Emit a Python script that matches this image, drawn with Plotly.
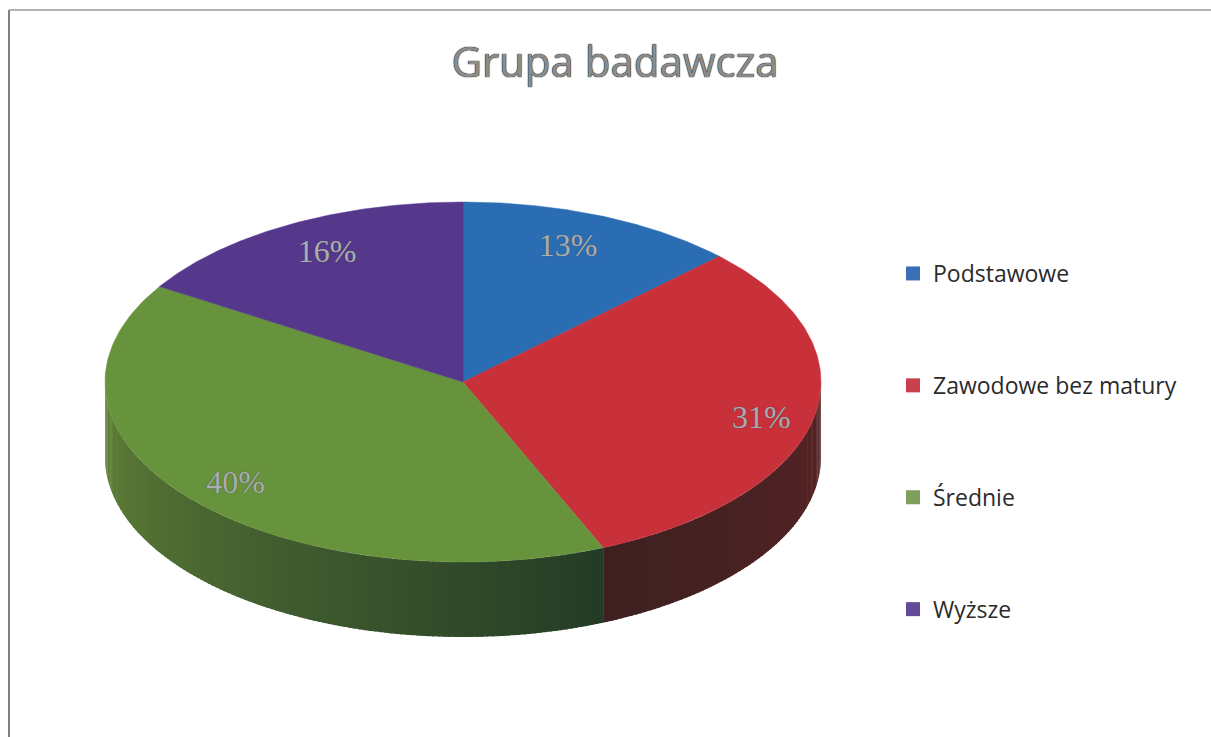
import numpy as np
import plotly.graph_objects as go

# --- data ---
categories = ["Podstawowe", "Zawodowe bez matury", "Średnie", "Wyższe"]
values = [12.7, 30.9, 40.3, 16.1]
labels = ["13%", "31%", "40%", "16%"]
title = "Grupa badawcza"

# --- style ---
top_colors = ["#2a6db3", "#c8303a", "#66933c", "#55378c"]
legend_colors = ["#3a6fb5", "#c8404c", "#7f9f5c", "#664a9a"]
side_light = {1: (88, 36, 38), 2: (98, 130, 56)}
side_dark = {1: (62, 32, 32), 2: (36, 60, 38)}

W, H = 1211, 737
CX, CY, RX, RY, DEPTH = 463, 382, 358, 180, 75
LABEL_F = [(0.755, 0.81), (0.85, 1.07), (0.835, 0.885), (0.783, 0.81)]


def px(theta):
    return CX + RX * np.sin(theta)


def py(theta):
    return CY - RY * np.cos(theta)


edges = np.concatenate([[0], np.cumsum(values)]) / sum(values) * 2 * np.pi
fig = go.Figure()

# side wall: thin strips so the shading can vary along the rim
for i in range(len(values)):
    a0, a1 = max(edges[i], np.pi / 2), min(edges[i + 1], 3 * np.pi / 2)
    if a1 <= a0:
        continue
    n = max(int((a1 - a0) / 0.015), 1)
    steps = np.linspace(a0, a1, n + 1)
    for j in range(n):
        mid = (steps[j] + steps[j + 1]) / 2
        if i == 2:
            k = np.clip((3 * np.pi / 2 - mid) / (3 * np.pi / 2 - 2.75), 0, 1)
        else:
            k = 1 - np.clip((2.75 - mid) / (2.75 - np.pi / 2), 0, 1)
        c = [round(l + (d - l) * k) for l, d in zip(side_light[i], side_dark[i])]
        col = f"rgb({c[0]},{c[1]},{c[2]})"
        t = np.linspace(steps[j], min(steps[j + 1] + 0.006, a1), 3)
        xs = np.concatenate([px(t), px(t[::-1])])
        ys = np.concatenate([py(t), py(t[::-1]) + DEPTH])
        fig.add_trace(go.Scatter(x=xs, y=ys, mode="lines", fill="toself", fillcolor=col,
                                 line=dict(width=0), showlegend=False, hoverinfo="skip"))

# top face
for i in range(len(values)):
    t = np.linspace(edges[i], edges[i + 1], 120)
    xs = np.concatenate([[CX], px(t), [CX]])
    ys = np.concatenate([[CY], py(t), [CY]])
    fig.add_trace(go.Scatter(x=xs, y=ys, mode="lines", fill="toself", fillcolor=top_colors[i],
                             line=dict(width=0.5, color=top_colors[i]), showlegend=False,
                             name=categories[i], hoverinfo="name"))

# percentage labels
mids = (edges[:-1] + edges[1:]) / 2
lx = [CX + RX * f[0] * np.sin(m) for f, m in zip(LABEL_F, mids)]
ly = [CY - RY * f[1] * np.cos(m) for f, m in zip(LABEL_F, mids)]
fig.add_trace(go.Scatter(x=lx, y=ly, mode="text", text=labels, showlegend=False, hoverinfo="skip",
                         textfont=dict(family="Liberation Serif", size=32, color="#a9adb2",
                                       shadow="0 0 1px #444")))

# legend
for name, col in zip(categories, legend_colors):
    fig.add_trace(go.Scatter(x=[None], y=[None], mode="markers", name=name, legendgroup=name,
                             marker=dict(symbol="square", size=14, color=col)))

fig.update_layout(
    width=W, height=H, margin=dict(l=0, r=0, t=0, b=0),
    paper_bgcolor="white", plot_bgcolor="white",
    xaxis=dict(range=[0, W], visible=False),
    yaxis=dict(range=[H, 0], visible=False),
    title=dict(text=title, x=615 / W, xanchor="center", y=1 - 62 / H, yanchor="middle",
               font=dict(family="Open Sans", size=42, color="#8c8c8c",
                         shadow="0 0 1px #111, 0 0 1px #111")),
    legend=dict(x=893 / W, xanchor="left", y=1 - 252 / H, yanchor="top", tracegroupgap=79,
                itemwidth=30, bgcolor="rgba(0,0,0,0)",
                font=dict(family="Open Sans", size=23, color="#2b2b2b")),
    shapes=[
        dict(type="line", xref="paper", yref="paper", x0=9 / W, x1=9 / W, y0=0, y1=1 - 10 / H,
             line=dict(color="#555555", width=1.5)),
        dict(type="line", xref="paper", yref="paper", x0=9 / W, x1=1, y0=1 - 10 / H, y1=1 - 10 / H,
             line=dict(color="#9a9a9a", width=1.5)),
    ],
)

fig.write_html("out.html", config=dict(displayModeBar=False),
               post_script="document.body.style.margin='0';")
